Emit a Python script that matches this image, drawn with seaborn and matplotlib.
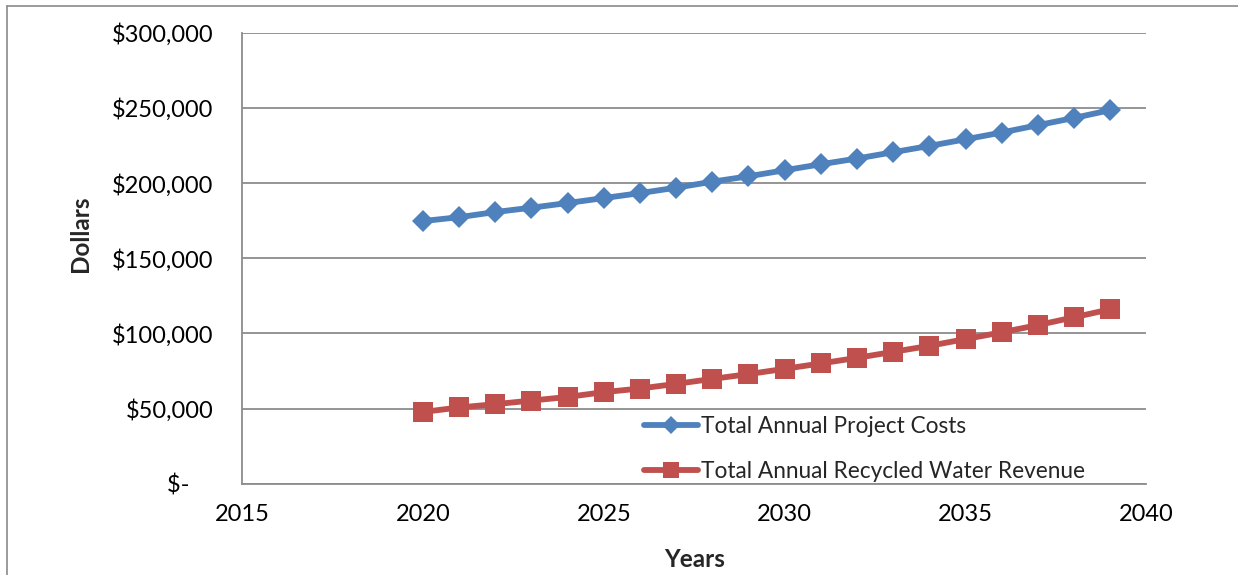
import matplotlib
matplotlib.use("Agg")
import matplotlib.pyplot as plt
from matplotlib.lines import Line2D
from matplotlib.ticker import FixedLocator, FuncFormatter
import seaborn as sns
import pandas as pd

# Annual values, 2020-2039
years = list(range(2020, 2040))
project_costs = [174700, 177300, 180700, 183600, 186700, 190000, 193300, 196900,
                 200900, 204500, 208500, 212500, 216300, 220500, 224700, 229100,
                 233600, 238500, 243300, 248500]
water_revenue = [47700, 50700, 52900, 55300, 57700, 60900, 63300, 66400,
                 69700, 72900, 76400, 80000, 83700, 87700, 91700, 96200,
                 100700, 105500, 110700, 116000]
series_names = ["Total Annual Project Costs", "Total Annual Recycled Water Revenue"]
x_ticks = [2015, 2020, 2025, 2030, 2035, 2040]
y_ticks = [0, 50000, 100000, 150000, 200000, 250000, 300000]

BLUE = "#4F81BD"
RED = "#C0504D"
GRID = "#8C8C8C"

sns.set_style("white")
plt.rcParams["font.family"] = ["Lato", "DejaVu Sans"]

fig = plt.figure(figsize=(12.38, 5.75), dpi=100)
ax = fig.add_axes([0.1955, 0.1588, 0.7305, 0.7843])

df_cost = pd.DataFrame({"Year": years, "Dollars": project_costs})
df_rev = pd.DataFrame({"Year": years, "Dollars": water_revenue})

sns.lineplot(data=df_cost, x="Year", y="Dollars", ax=ax, color=BLUE, lw=4.2,
             marker="D", markersize=11, markeredgecolor=BLUE, markeredgewidth=0,
             label=series_names[0], zorder=3)
sns.lineplot(data=df_rev, x="Year", y="Dollars", ax=ax, color=RED, lw=4.2,
             marker="s", markersize=14, markeredgecolor=RED, markeredgewidth=0,
             label=series_names[1], zorder=3)

ax.set_xlim(2015, 2040)
ax.set_ylim(0, 300000)
ax.xaxis.set_major_locator(FixedLocator(x_ticks))
ax.yaxis.set_major_locator(FixedLocator(y_ticks))


def dollars(v, _pos):
    if v == 0:
        return "$-    "
    return f"${v:,.0f}"


ax.yaxis.set_major_formatter(FuncFormatter(dollars))
ax.xaxis.set_major_formatter(FuncFormatter(lambda v, _p: f"{int(v)}"))

# horizontal gridlines only
ax.grid(axis="y", color=GRID, lw=1.3)
ax.grid(axis="x", visible=False)
ax.set_axisbelow(True)

for side in ("top", "right"):
    ax.spines[side].set_visible(False)
for side in ("left", "bottom"):
    ax.spines[side].set_color(GRID)
    ax.spines[side].set_linewidth(1.3)

ax.tick_params(axis="both", which="major", direction="out", length=5.8,
               width=1.3, color=GRID, labelsize=17, labelcolor="black")
ax.tick_params(axis="y", pad=15)
ax.tick_params(axis="x", pad=9)

ax.set_xlabel("Years", fontsize=17.5, fontweight="bold")
ax.set_ylabel("Dollars", fontsize=17.5, fontweight="bold")
ax.xaxis.set_label_coords(0.5, -0.142)
ax.yaxis.set_label_coords(-0.166, 0.554)

leg = ax.legend(loc="upper left", bbox_to_anchor=(0.435, 0.17), frameon=False,
                fontsize=16.3, handlelength=2.35, handletextpad=0.15,
                labelspacing=1.05, markerscale=0.85, borderaxespad=0)

# thin outer frame on the top and left edges of the figure
fig.add_artist(Line2D([7 / 1238, 1.0], [1 - 6 / 575, 1 - 6 / 575],
                      transform=fig.transFigure, color="#8A8A8A", lw=1.2))
fig.add_artist(Line2D([7 / 1238, 7 / 1238], [0.0, 1 - 6 / 575],
                      transform=fig.transFigure, color="#8A8A8A", lw=1.2))

fig.savefig("out.png", dpi=100)
